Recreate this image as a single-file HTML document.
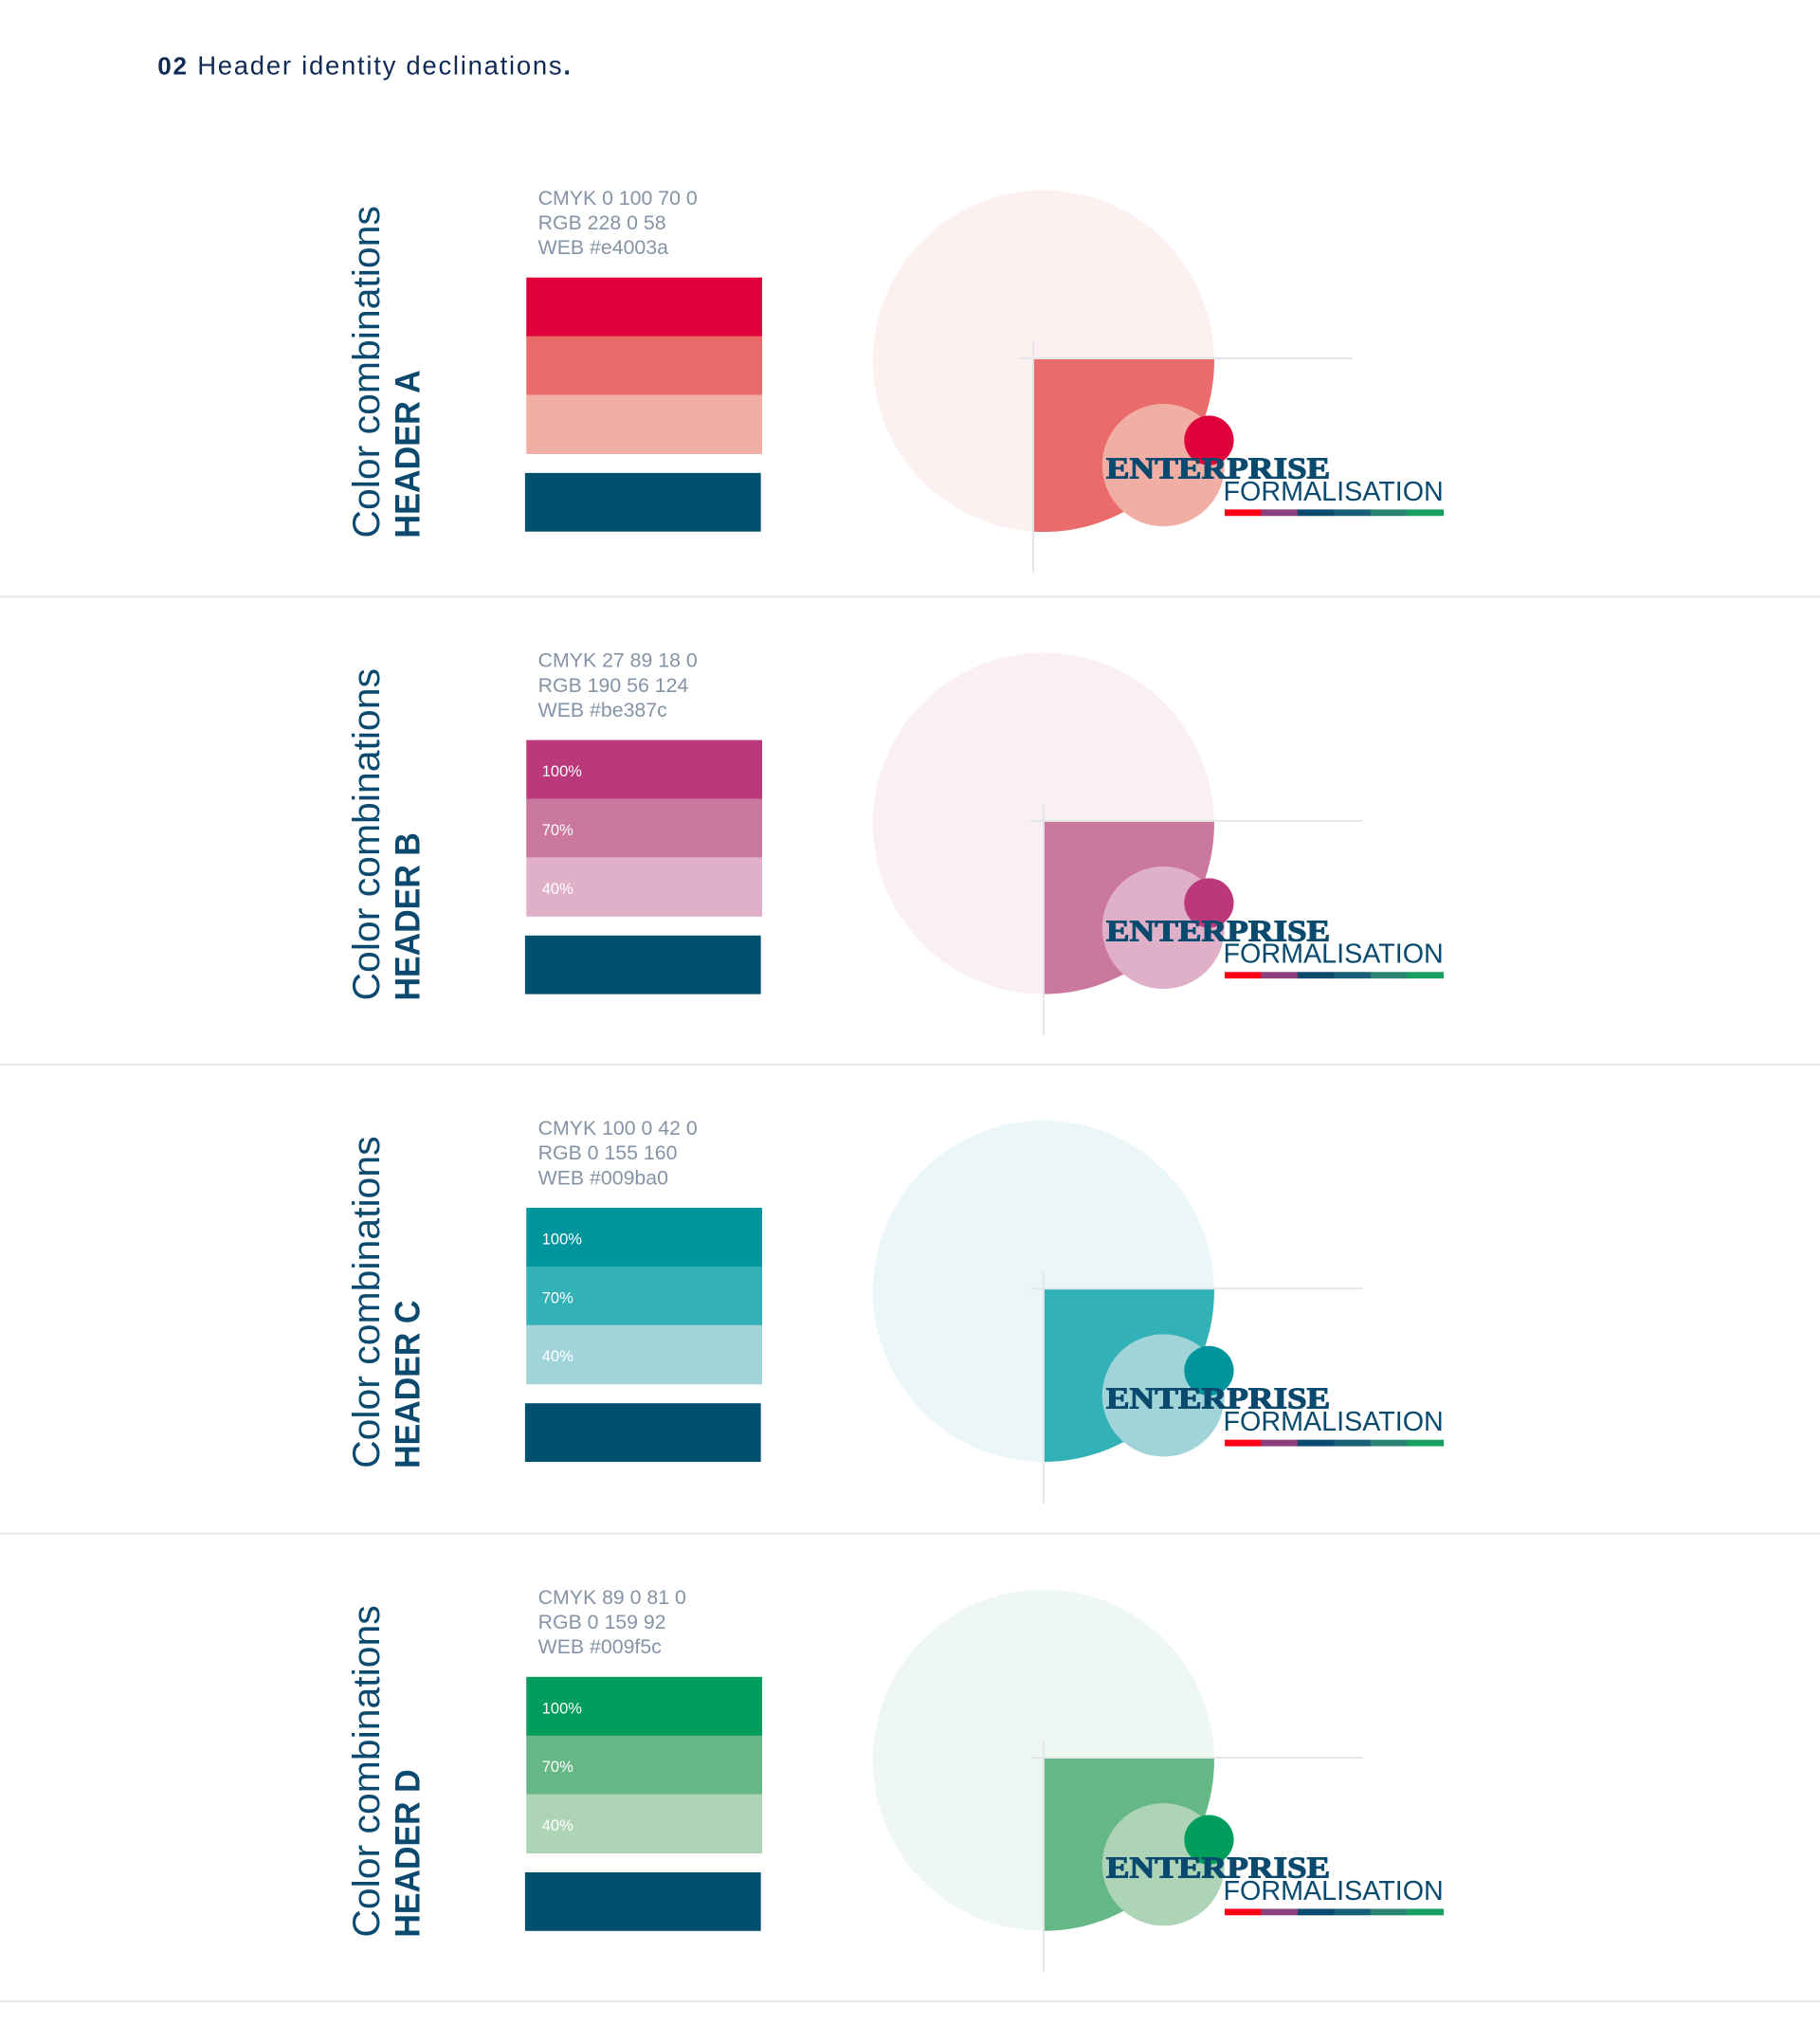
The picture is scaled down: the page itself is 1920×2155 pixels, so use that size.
<!DOCTYPE html>
<html>
<head>
<meta charset="utf-8">
<style>
  html,body{margin:0;padding:0;background:#fff;}
  body{width:1920px;height:2155px;overflow:hidden;}
  svg{display:block;}
  text{font-family:"Liberation Sans",sans-serif;}
</style>
</head>
<body>
<svg id="page" width="1920" height="2155" viewBox="0 0 1397 1568" xmlns="http://www.w3.org/2000/svg">
  <text x="121" y="57" font-size="20" fill="#0f2a55" textLength="317" lengthAdjust="spacing"><tspan font-weight="bold" font-size="19">02</tspan> Header identity declinations<tspan font-weight="bold">.</tspan></text>
</svg>
<script>
const headerLabels = ["HEADER A","HEADER B","HEADER C","HEADER D"];
const cmykLines = ["CMYK 0 100 70 0","CMYK 27 89 18 0","CMYK 100 0 42 0","CMYK 89 0 81 0"];
const rgbLines = ["RGB 228 0 58","RGB 190 56 124","RGB 0 155 160","RGB 0 159 92"];
const webLines = ["WEB #e4003a","WEB #be387c","WEB #009ba0","WEB #009f5c"];
const color100 = ["#e0003a","#bb387a","#00959c","#009d5c"];
const color70 = ["#e96b6b","#ca789d","#32b1b7","#66b786"];
const color40 = ["#f1aea5","#e0b0c9","#a1d4d8","#aed4b8"];
const bgTint = ["#fdf0f0","#faf0f4","#eaf6f7","#eef7f1"];
const showPct = [false,true,true,true];
const sectionOffset = [0,355,714,1074];
const dividerY = [458,817,1177,1536];
const xOffset = [-8,0,0,0];
const pctLabels = ["100%","70%","40%"];

const NS = "http://www.w3.org/2000/svg";
const svg = document.getElementById("page");
function mk(tag, attrs, parent){
  const el = document.createElementNS(NS, tag);
  for (const k in attrs) el.setAttribute(k, attrs[k]);
  (parent||svg).appendChild(el);
  return el;
}

headerLabels.forEach((label, i) => {
  const dy = sectionOffset[i];
  const g = mk("g", {transform: "translate(0," + dy + ")"});
  
  

  const t1 = mk("text", {transform: "translate(291,413) rotate(-90)", "font-size": "29", fill: "#0b4a6e", textLength: 255, lengthAdjust: "spacingAndGlyphs"}, g);
  t1.textContent = "Color combinations";
  
  
  const t2 = mk("text", {transform: "translate(322,413) rotate(-90)", "font-size": "27", "font-weight": "bold", fill: "#0b4a6e", textLength: 129, lengthAdjust: "spacingAndGlyphs"}, g);
  t2.textContent = label;
  
  

  [cmykLines[i], rgbLines[i], webLines[i]].forEach((s, k) => {
    const t = mk("text", {x: 413, y: 157 + k * 19, "font-size": "15.5", fill: "#8593a6"}, g);
    t.textContent = s;
    
    
  });

  const cols = [color100[i], color70[i], color40[i]];
  cols.forEach((c, k) => {
    const r = mk("rect", {x: 404, y: 213 + k * 45, width: 181, height: 45.5, fill: c}, g);
    
    
    if (showPct[i]) {
      const t = mk("text", {x: 416, y: 241 + k * 45, "font-size": "12", fill: "#ffffff"}, g);
      t.textContent = pctLabels[k];
      
      
    }
  });
  const nv = mk("rect", {x: 403, y: 363, width: 181, height: 45, fill: "#034f70"}, g);
  
  

  const cx = 801, cy = 277, R = 131;
  const qx = cx + xOffset[i];
  const big = mk("circle", {cx: cx, cy: cy, r: R, fill: bgTint[i]}, g);
  
  
  const quarter = mk("path", {d: "M" + qx + " " + (cy-2) + " L" + (cx+R) + " " + (cy-2) + " A" + R + " " + R + " 0 0 1 " + qx + " " + (cy+R) + " Z", fill: color70[i]}, g);
  
  
  const hl = mk("line", {x1: qx - 10, y1: cy - 2, x2: qx + 245, y2: cy - 2, stroke: "#e4e7ea", "stroke-width": 1.5}, g);
  
  
  const vl = mk("line", {x1: qx, y1: cy - 15, x2: qx, y2: cy + 163, stroke: "#e4e7ea", "stroke-width": 1.5}, g);
  
  
  const mid = mk("circle", {cx: 893, cy: 357, r: 47, fill: color40[i]}, g);
  
  
  const small = mk("circle", {cx: 928, cy: 338, r: 19, fill: color100[i]}, g);
  
  
  const e = mk("text", {x: 849, y: 367, "font-size": "23", "font-weight": "900", fill: "#0a4a6e", stroke: "#0a4a6e", "stroke-width": "0.8", textLength: 172, lengthAdjust: "spacingAndGlyphs", style: "font-family:'Liberation Serif',serif"}, g);
  e.textContent = "ENTERPRISE";
  
  
  const f = mk("text", {x: 939, y: 384, "font-size": "21", fill: "#0a4a6e", textLength: 169, lengthAdjust: "spacingAndGlyphs"}, g);
  f.textContent = "FORMALISATION";
  
  
  const barCols = ["#ff0016","#8b3f7c","#0a4a6e","#1a5f78","#2a8373","#17a160"];
  barCols.forEach((c, k) => {
    const b = mk("rect", {x: 940 + k * 28, y: 391, width: 28.2, height: 5, fill: c}, g);
    
    
  });

  const div = mk("line", {x1: 0, y1: dividerY[i], x2: 1397, y2: dividerY[i], stroke: "#e6e8eb", "stroke-width": 1.5});
  
  
});
</script>
</body>
</html>
